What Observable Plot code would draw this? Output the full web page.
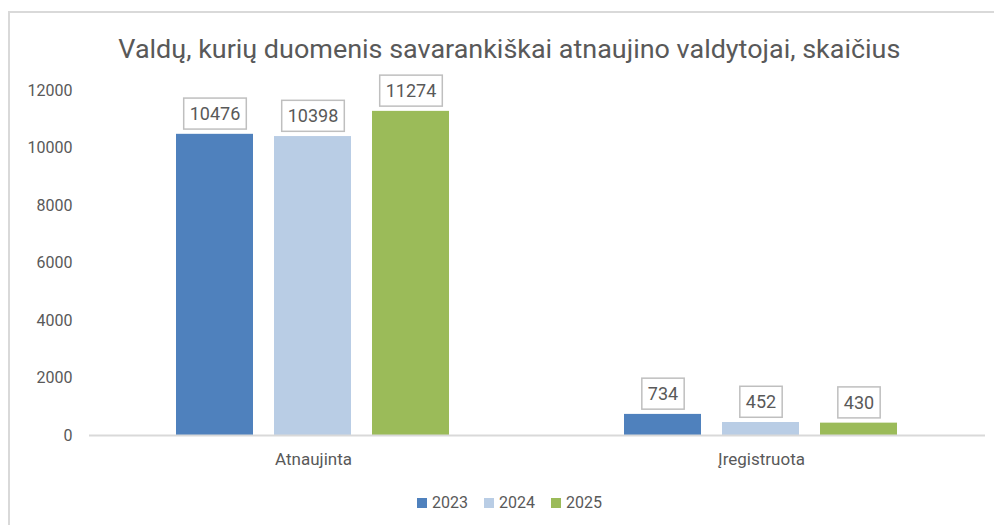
<!DOCTYPE html>
<html>
<head>
<meta charset="utf-8">
<script src="https://cdn.jsdelivr.net/npm/d3@7"></script>
<script src="https://cdn.jsdelivr.net/npm/@observablehq/plot@0.6"></script>
<style>
  body { margin: 0; background: #fff; font-family: Roboto, sans-serif; }
  #wrap { position: relative; width: 994px; height: 525px; overflow: hidden; background: #fff; }
  #frame { position: absolute; left: 8px; top: 11px; width: 1000px; height: 600px;
           border-left: 2px solid #d9d9d9; border-top: 2px solid #d9d9d9; }
  #title { position: absolute; left: 0; top: 36px; width: 1018px; text-align: center;
           font-size: 26px; line-height: 26px; color: #595959; white-space: nowrap; }
  #title span { display: inline-block; transform-origin: 50% 50%; }
  #chart { position: absolute; left: 0; top: 70px; }
  #legend { position: absolute; left: 417px; top: 493px; display: flex; align-items: center;
            font-size: 16px; line-height: 20px; color: #595959; }
  #legend .item { display: flex; align-items: center; margin-right: 16px; }
  #legend .sw { width: 10px; height: 10px; margin-right: 5px; }
</style>
</head>
<body>
<div id="wrap">
  <div id="frame"></div>
  <div id="title"><span>Valdų, kurių duomenis savarankiškai atnaujino valdytojai, skaičius</span></div>
  <div id="chart"></div>
  <div id="legend"></div>
</div>
<script>
const categories = ["Atnaujinta", "Įregistruota"];
const years = ["2023", "2024", "2025"];
const values2023 = [10476, 734];
const values2024 = [10398, 452];
const values2025 = [11274, 430];
const yTicks = [0, 2000, 4000, 6000, 8000, 10000, 12000];
const colors = ["#4f81bd", "#b9cde5", "#9bbb59"];

const seriesByYear = {"2023": values2023, "2024": values2024, "2025": values2025};
const data = categories.flatMap((c, i) =>
  years.map(y => ({category: c, year: y, value: seriesByYear[y][i]})));

const chart = Plot.plot({
  width: 994,
  height: 415,
  marginTop: 20,
  marginBottom: 50,
  marginLeft: 89,
  marginRight: 9,
  style: {fontFamily: "Roboto, sans-serif", fontSize: "16px", color: "#595959", background: "transparent", overflow: "visible"},
  fx: {domain: categories, padding: 0, label: null},
  x: {domain: years, paddingInner: 0.21, paddingOuter: 0.87, axis: null},
  y: {domain: [0, 12000], ticks: yTicks, tickSize: 0, tickPadding: 17, label: null, tickFormat: d => String(d)},
  color: {domain: years, range: colors},
  marks: [
    Plot.axisFx({anchor: "bottom", tickSize: 0, tickPadding: 17, fontSize: 17, label: null}),
    Plot.barY(data, {fx: "category", x: "year", y: "value", fill: "year"}),
    Plot.ruleY([0], {stroke: "#d9d9d9", strokeWidth: 2}),
    Plot.text(data, {fx: "category", x: "year", y: "value", text: d => String(d.value),
      dy: -20, fontSize: 18, fill: "#595959"})
  ]
});
document.getElementById("chart").appendChild(chart);

// boxes around value labels, sized from the rendered text
const labelTexts = Array.from(chart.querySelectorAll("text"))
  .filter(t => data.some(d => String(d.value) === t.textContent));
labelTexts.forEach(t => {
  const b = t.getBBox();
  const r = document.createElementNS("http://www.w3.org/2000/svg", "rect");
  const padX = 6, padY = 5;
  r.setAttribute("x", b.x - padX);
  r.setAttribute("y", b.y - padY);
  r.setAttribute("width", b.width + 2 * padX);
  r.setAttribute("height", b.height + 2 * padY);
  r.setAttribute("fill", "#fff");
  r.setAttribute("stroke", "#bfbfbf");
  r.setAttribute("stroke-width", 1.5);
  if (t.getAttribute("transform")) r.setAttribute("transform", t.getAttribute("transform"));
  t.parentNode.insertBefore(r, t);
});

// legend
const legend = document.getElementById("legend");
years.forEach((y, i) => {
  const item = document.createElement("div");
  item.className = "item";
  const sw = document.createElement("div");
  sw.className = "sw";
  sw.style.background = colors[i];
  const lab = document.createElement("span");
  lab.textContent = y;
  item.appendChild(sw);
  item.appendChild(lab);
  legend.appendChild(item);
});

// fit title width to the reference width
const ts = document.querySelector("#title span");
const w = ts.getBoundingClientRect().width;
ts.style.transform = `scaleX(${782 / w})`;
</script>
</body>
</html>
